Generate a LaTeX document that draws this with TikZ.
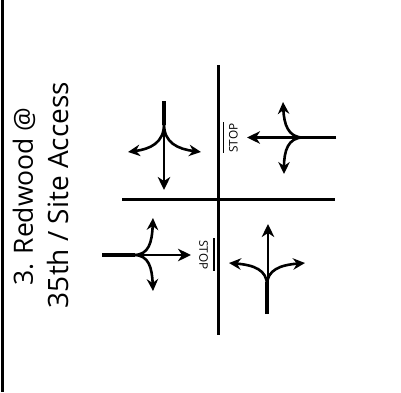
\documentclass[tikz,border=0pt]{standalone}
\usepackage{fontspec}
\setmainfont{Open Sans}
\usetikzlibrary{arrows.meta}
\tikzset{
  road/.style={line width=2.4pt,black},
  thru/.style={line width=2.4pt,-{Stealth[length=13pt,width=12.5pt,inset=4pt]}},
  turn/.style={line width=2.6pt,-{Stealth[length=12pt,width=11.5pt,inset=4pt]}},
  tail/.style={line width=3.6pt},
  stopbar/.style={line width=1.7pt},
  stoptext/.style={font=\fontsize{11.8}{12}\selectfont,inner sep=0pt},
  title/.style={inner sep=0pt,rotate=90,anchor=center}
}
\begin{document}
\begin{tikzpicture}[x=1pt,y=-1pt]
\useasboundingbox (0,0) rectangle (401,392);
\fill[white] (0,0) rectangle (401,392);
\draw[line width=3.2pt] (2.5,0) -- (2.5,392);
\node[title,font=\fontsize{26.5}{30}\selectfont] (t1) at (24,196.5) {3. Redwood @};
\node[title,font=\fontsize{28}{30}\selectfont] (t2) at (58,195) {35th / Site Access};
\draw[road] (218.5,65) -- (218.5,335);
\draw[road] (122,199.5) -- (335,199.5);
% NW
\draw[thru] (164,101) -- (164,190);
\draw[tail] (164,101) -- (164,125);
\draw[turn] (164,124) .. controls (164,143) and (150,149) .. (128,152);
\draw[turn] (164,124) .. controls (164,143) and (178,149) .. (201,152);
% NE
\draw[thru] (336,137.5) -- (247,137.5);
\draw[tail] (336,137.5) -- (302,137.5);
\draw[turn] (303,137.5) .. controls (288,137.5) and (284,124) .. (283,102);
\draw[turn] (303,137.5) .. controls (288,137.5) and (284,151) .. (284,174);
\draw[stopbar] (223.5,122) -- (223.5,153);
\node[stoptext,rotate=90] (s1) at (233.5,138) {STOP};
% SW
\draw[thru] (102,255) -- (191,255);
\draw[tail] (102,255) -- (135,255);
\draw[turn] (134,255) .. controls (149,255) and (152,242) .. (153,218);
\draw[turn] (134,255) .. controls (149,255) and (152,268) .. (153,291);
\draw[stopbar] (214,238) -- (214,271);
\node[stoptext,rotate=-90] (s2) at (203.5,255) {STOP};
% SE
\draw[thru] (268,314) -- (268,224);
\draw[tail] (267,314) -- (267,282);
\draw[turn] (267,285) .. controls (267,270) and (254,265) .. (229,263);
\draw[turn] (267,285) .. controls (267,270) and (280,265) .. (305,263);
\end{tikzpicture}
\end{document}
